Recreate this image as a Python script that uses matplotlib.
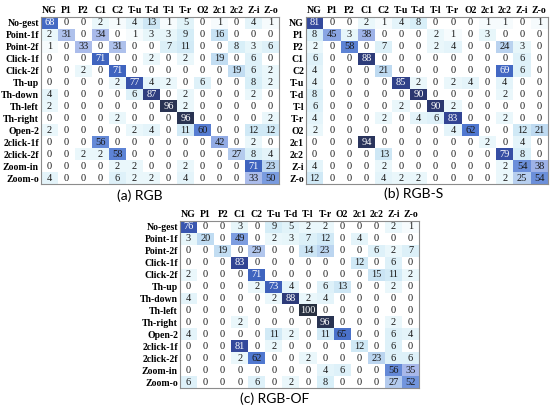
import numpy as np
import matplotlib
matplotlib.use("Agg")
import matplotlib.pyplot as plt
from matplotlib.colors import LinearSegmentedColormap

cols_short = ["NG", "P1", "P2", "C1", "C2", "T-u", "T-d", "T-l", "T-r", "O2", "2c1", "2c2", "Z-i", "Z-o"]
rows_long = ["No-gest", "Point-1f", "Point-2f", "Click-1f", "Click-2f", "Th-up", "Th-down",
             "Th-left", "Th-right", "Open-2", "2click-1f", "2click-2f", "Zoom-in", "Zoom-o"]

rgb = [
    [68, 0, 0, 2, 1, 4, 13, 1, 5, 0, 1, 0, 4, 1],
    [2, 31, 0, 34, 0, 1, 3, 3, 9, 0, 16, 0, 0, 0],
    [1, 0, 33, 0, 31, 0, 0, 7, 11, 0, 0, 8, 3, 6],
    [0, 0, 0, 71, 0, 0, 2, 0, 2, 0, 19, 0, 6, 0],
    [0, 0, 2, 0, 71, 0, 0, 0, 0, 0, 0, 19, 6, 2],
    [0, 0, 0, 0, 2, 77, 4, 2, 0, 6, 0, 0, 8, 2],
    [4, 0, 0, 0, 0, 6, 87, 0, 2, 0, 0, 0, 2, 0],
    [2, 0, 0, 0, 0, 0, 0, 96, 2, 0, 0, 0, 0, 0],
    [0, 0, 0, 0, 2, 0, 0, 0, 96, 0, 0, 0, 0, 2],
    [2, 0, 0, 0, 0, 2, 4, 0, 11, 60, 0, 0, 12, 12],
    [0, 0, 0, 56, 0, 0, 0, 0, 0, 0, 42, 0, 2, 0],
    [0, 0, 2, 2, 58, 0, 0, 0, 0, 0, 0, 27, 8, 4],
    [0, 0, 0, 0, 2, 2, 0, 0, 2, 0, 0, 0, 71, 23],
    [4, 0, 0, 0, 6, 2, 2, 0, 4, 0, 0, 0, 33, 50],
]

rgb_s = [
    [81, 0, 0, 2, 1, 4, 8, 0, 0, 0, 1, 1, 0, 1],
    [8, 45, 3, 38, 0, 0, 0, 2, 1, 0, 3, 0, 0, 0],
    [2, 0, 58, 0, 7, 0, 0, 2, 4, 0, 0, 24, 3, 0],
    [6, 0, 0, 88, 0, 0, 0, 0, 0, 0, 0, 0, 6, 0],
    [4, 0, 0, 0, 21, 0, 0, 0, 0, 0, 0, 69, 6, 0],
    [4, 0, 0, 0, 0, 85, 2, 0, 2, 4, 0, 4, 0, 0],
    [8, 0, 0, 0, 0, 0, 90, 0, 0, 0, 0, 2, 0, 0],
    [6, 0, 0, 0, 0, 2, 0, 90, 2, 0, 0, 0, 0, 0],
    [4, 0, 0, 0, 2, 0, 4, 6, 83, 0, 0, 2, 0, 0],
    [2, 0, 0, 0, 0, 0, 0, 0, 4, 62, 0, 0, 12, 21],
    [0, 0, 0, 94, 0, 0, 0, 0, 0, 0, 2, 0, 4, 0],
    [0, 0, 0, 0, 13, 0, 0, 0, 0, 0, 0, 79, 8, 0],
    [4, 0, 0, 0, 2, 0, 0, 0, 0, 0, 0, 2, 54, 38],
    [12, 0, 0, 0, 4, 2, 2, 0, 0, 0, 0, 2, 25, 54],
]

rgb_of = [
    [76, 0, 0, 3, 0, 9, 5, 2, 2, 0, 0, 0, 2, 1],
    [3, 20, 0, 49, 0, 2, 3, 7, 12, 0, 4, 0, 0, 0],
    [0, 0, 19, 0, 29, 0, 0, 14, 23, 0, 0, 6, 2, 7],
    [0, 0, 0, 83, 0, 0, 0, 0, 0, 0, 12, 0, 6, 0],
    [2, 0, 0, 0, 71, 0, 0, 0, 0, 0, 0, 15, 11, 2],
    [0, 0, 0, 0, 2, 73, 4, 0, 6, 13, 0, 0, 2, 0],
    [4, 0, 0, 0, 0, 2, 88, 2, 4, 0, 0, 0, 0, 0],
    [0, 0, 0, 0, 0, 0, 0, 100, 0, 0, 0, 0, 0, 0],
    [0, 0, 0, 2, 0, 0, 0, 0, 96, 0, 0, 0, 2, 0],
    [4, 0, 0, 0, 0, 11, 2, 0, 11, 65, 0, 0, 6, 4],
    [0, 0, 0, 81, 0, 2, 0, 0, 0, 0, 12, 0, 6, 0],
    [0, 0, 0, 2, 62, 0, 0, 2, 0, 0, 0, 23, 6, 6],
    [0, 0, 0, 0, 0, 0, 0, 0, 4, 6, 0, 0, 56, 35],
    [6, 0, 0, 0, 6, 0, 2, 0, 8, 0, 0, 0, 27, 52],
]

cmap = LinearSegmentedColormap.from_list("cm", [
    (0.0, "#ffffff"), (0.02, "#eaf7fb"), (0.08, "#d8eff8"), (0.2, "#c0dcf2"),
    (0.35, "#a8b8ea"), (0.5, "#7a9ce0"), (0.62, "#5078d0"), (0.72, "#3e62be"),
    (0.82, "#34479a"), (0.9, "#2c3870"), (1.0, "#283040")])

W, H = 550, 408
fig = plt.figure(figsize=(W / 100, H / 100), dpi=100)


def panel(data, rlabels, box, caption, cap_xy, lab_size):
    x0, y0, x1, y1 = box
    ax = fig.add_axes([x0 / W, 1 - y1 / H, (x1 - x0) / W, (y1 - y0) / H])
    m = np.array(data)
    ax.imshow(m, cmap=cmap, vmin=0, vmax=100, aspect="auto", interpolation="nearest")
    for i in range(m.shape[0]):
        for j in range(m.shape[1]):
            v = m[i, j]
            ax.text(j, i, str(v), ha="center", va="center", fontsize=7.5,
                    family="Liberation Serif", color="white" if v >= 66 else "#1a1a1a")
    ax.set_xticks(range(len(cols_short)))
    ax.set_xticklabels(cols_short, fontsize=lab_size, family="Liberation Serif", fontweight="bold")
    ax.set_yticks(range(len(rlabels)))
    ax.set_yticklabels(rlabels, fontsize=lab_size, family="Liberation Serif", fontweight="bold")
    ax.xaxis.tick_top()
    ax.tick_params(length=0, pad=1.5)
    for s in ax.spines.values():
        s.set_color("#8c8c8c")
        s.set_linewidth(0.8)
    fig.text(cap_xy[0] / W, 1 - cap_xy[1] / H, caption, ha="center", va="center",
             fontsize=10, family="Lato")


panel(rgb, rows_long, (41, 17, 279, 184), "(a) RGB", (140, 196), 7)
panel(rgb_s, cols_short, (306, 17, 548, 184), "(b) RGB-S", (414, 194), 7)
panel(rgb_of, rows_long, (180, 221, 419, 388), "(c) RGB-OF", (275, 399), 7)

fig.savefig("out.png", dpi=100)
